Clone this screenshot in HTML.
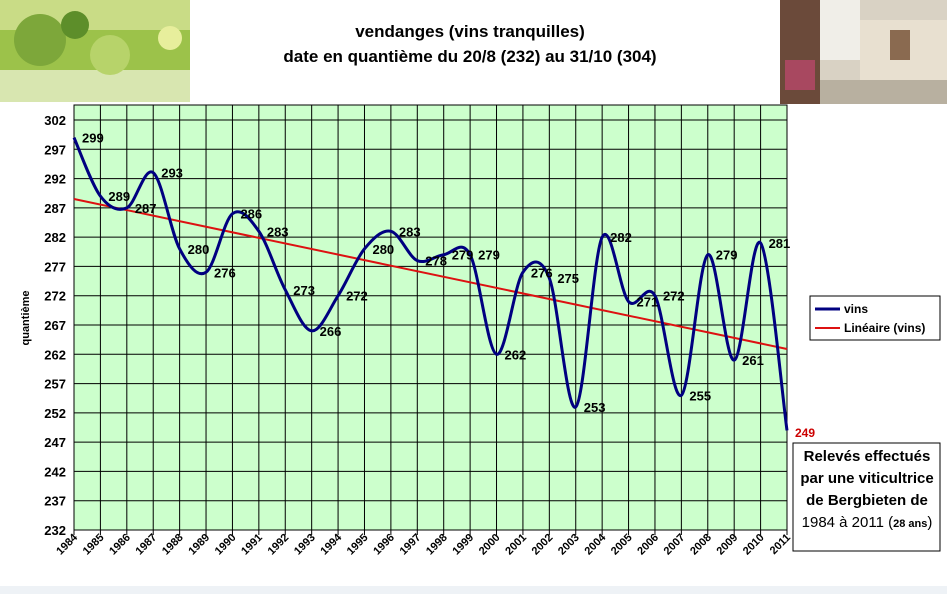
<!DOCTYPE html>
<html><head><meta charset="utf-8"><style>
body{margin:0;background:#fff;width:947px;height:594px;overflow:hidden;font-family:"Liberation Sans",Arial,sans-serif}
</style></head><body>
<svg width="947" height="594" xmlns="http://www.w3.org/2000/svg" font-family="Liberation Sans, Arial, sans-serif">
<rect x="0" y="586" width="947" height="8" fill="#eef2f6"/>
<rect x="0" y="0" width="190" height="102" fill="#9cc24a"/>
<rect x="0" y="0" width="190" height="30" fill="#c9dc86"/>
<rect x="0" y="70" width="190" height="32" fill="#d8e6b0"/>
<circle cx="40" cy="40" r="26" fill="#7da73a"/><circle cx="110" cy="55" r="20" fill="#b7d36a"/><circle cx="170" cy="38" r="12" fill="#e7ee9c"/>
<circle cx="75" cy="25" r="14" fill="#5d8e2a"/>
<rect x="780" y="0" width="167" height="104" fill="#d9d2c4"/>
<rect x="780" y="0" width="40" height="104" fill="#6b4a3a"/>
<rect x="820" y="0" width="40" height="60" fill="#f0eee8"/>
<rect x="860" y="20" width="87" height="60" fill="#e8e0d0"/>
<rect x="890" y="30" width="20" height="30" fill="#8a6a50"/>
<rect x="820" y="80" width="127" height="24" fill="#b8b0a0"/>
<rect x="785" y="60" width="30" height="30" fill="#a84860"/>
<text x="470" y="37" text-anchor="middle" font-size="17" font-weight="bold">vendanges (vins tranquilles)</text>
<text x="470" y="62" text-anchor="middle" font-size="17" font-weight="bold">date en quantième du 20/8 (232) au 31/10 (304)</text>
<rect x="74" y="105" width="713" height="425" fill="#ccffcc"/>
<g id="grid" stroke="#000" stroke-width="1"></g>
<rect x="74" y="105" width="713" height="425" fill="none" stroke="#000" stroke-width="1"/>
<g id="yl" font-size="13" font-weight="bold" text-anchor="end"></g>
<g id="xl" font-size="11" font-weight="bold"></g>
<text transform="translate(29,318) rotate(-90)" text-anchor="middle" font-size="11" font-weight="bold">quantième</text>
<line x1="74" y1="199" x2="787" y2="349" stroke="#dd1111" stroke-width="2"/>
<path id="curve" fill="none" stroke="#000080" stroke-width="3"/>
<g id="dl" font-size="13" font-weight="bold"></g>
<text x="795" y="437" font-size="12" font-weight="bold" fill="#cc0000">249</text>
<rect x="810" y="296" width="130" height="44" fill="#fff" stroke="#000"/>
<line x1="815" y1="309" x2="840" y2="309" stroke="#000080" stroke-width="3"/>
<text x="844" y="313" font-size="12" font-weight="bold">vins</text>
<line x1="815" y1="328" x2="840" y2="328" stroke="#dd1111" stroke-width="2"/>
<text x="844" y="332" font-size="12" font-weight="bold">Linéaire (vins)</text>
<rect x="793" y="443" width="147" height="108" fill="#fff" stroke="#000"/>
<g font-size="15" font-weight="bold" text-anchor="middle">
<text x="867" y="461">Relevés effectués</text>
<text x="867" y="483">par une viticultrice</text>
<text x="867" y="505">de Bergbieten de</text>
<text x="867" y="527" font-weight="normal">1984 à 2011 (<tspan font-size="11" font-weight="bold">28 ans</tspan>)</text>
</g>
</svg>
<script>
const ns="http://www.w3.org/2000/svg";
const X0=74,DX=713/27,Y=v=>120+(302-v)*5.857;
const g=document.getElementById('grid');
function el(p,t,a,txt){const e=document.createElementNS(ns,t);for(const k in a)e.setAttribute(k,a[k]);if(txt!=null)e.textContent=txt;p.appendChild(e);return e;}
for(let v=232;v<=302;v+=5){el(g,'line',{x1:X0,x2:787,y1:Y(v),y2:Y(v)});el(document.getElementById('yl'),'text',{x:66,y:Y(v)+5},v);}
for(let i=0;i<28;i++){const x=X0+i*DX;el(g,'line',{x1:x,x2:x,y1:105,y2:535});
el(document.getElementById('xl'),'text',{transform:`translate(${x+4},${538}) rotate(-45)`,'text-anchor':'end'},1984+i);}
const d=[299,289,287,293,280,276,286,283,273,266,272,280,283,278,279,279,262,276,275,253,282,271,272,255,279,261,281,249];
const P=d.map((v,i)=>[X0+i*DX,Y(v)]);
let s=`M${P[0][0]},${P[0][1]}`;
for(let i=0;i<P.length-1;i++){const p0=P[i-1]||P[i],p1=P[i],p2=P[i+1],p3=P[i+2]||P[i+1];
s+=` C${p1[0]+(p2[0]-p0[0])/6},${p1[1]+(p2[1]-p0[1])/6} ${p2[0]-(p3[0]-p1[0])/6},${p2[1]-(p3[1]-p1[1])/6} ${p2[0]},${p2[1]}`;}
document.getElementById('curve').setAttribute('d',s);
const dl=document.getElementById('dl');
for(let i=0;i<27;i++)el(dl,'text',{x:P[i][0]+8,y:P[i][1]+5},d[i]);
</script>
</body></html>
